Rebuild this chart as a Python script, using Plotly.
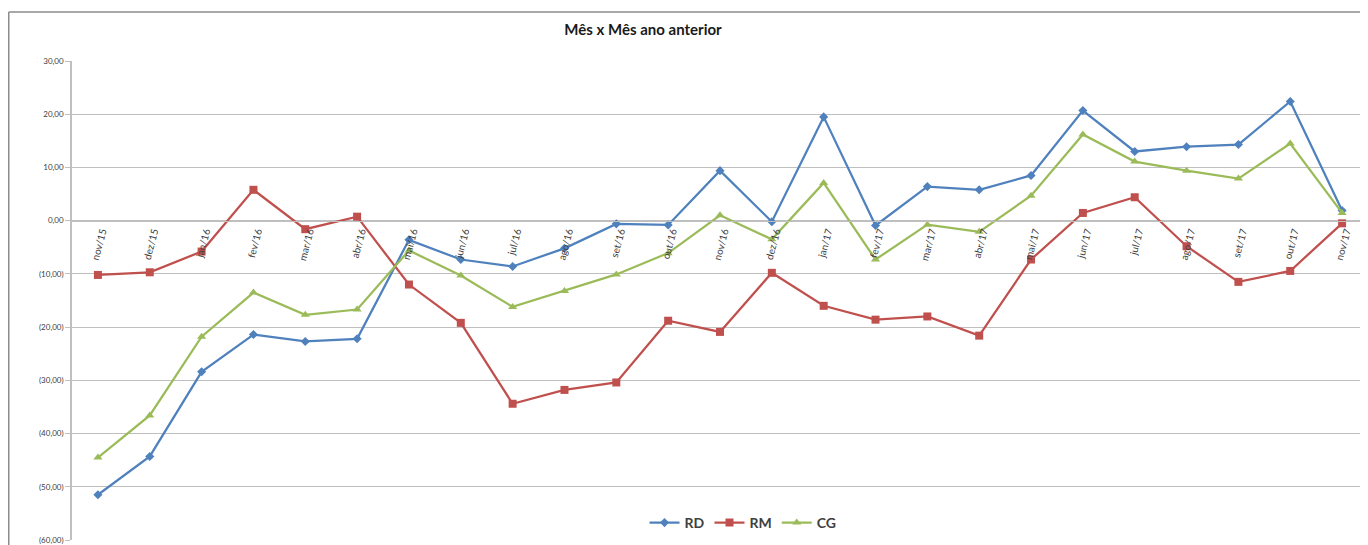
import plotly.graph_objects as go

categories = ["nov/15", "dez/15", "jan/16", "fev/16", "mar/16", "abr/16", "mai/16", "jun/16",
              "jul/16", "ago/16", "set/16", "out/16", "nov/16", "dez/16", "jan/17", "fev/17",
              "mar/17", "abr/17", "mai/17", "jun/17", "jul/17", "ago/17", "set/17", "out/17", "nov/17"]

rd = [-51.5, -44.3, -28.4, -21.4, -22.7, -22.2, -3.6, -7.3, -8.6, -5.2, -0.6, -0.8, 9.4, -0.2,
      19.5, -0.9, 6.4, 5.8, 8.5, 20.7, 13.0, 13.9, 14.3, 22.4, 1.9]
rm = [-10.2, -9.7, -5.8, 5.8, -1.6, 0.75, -12.0, -19.2, -34.4, -31.8, -30.4, -18.8, -20.9, -9.8,
      -16.0, -18.6, -18.0, -21.6, -7.3, 1.45, 4.4, -4.8, -11.5, -9.45, -0.5]
cg = [-44.5, -36.6, -21.8, -13.5, -17.7, -16.7, -5.6, -10.3, -16.2, -13.2, -10.1, -6.1, 1.0, -3.5,
      7.1, -7.3, -0.75, -2.1, 4.7, 16.2, 11.1, 9.4, 7.9, 14.5, 1.45]

y_tickvals = [30, 20, 10, 0, -10, -20, -30, -40, -50, -60]
y_ticktext = ["30,00", "20,00", "10,00", "0,00", "(10,00)", "(20,00)", "(30,00)",
              "(40,00)", "(50,00)", "(60,00)"]

FONT = "Lato"
OFF = 8  # page offset of the figure inside the browser body
W, H = 1368 - OFF, 545 - OFF
L, R, T, B = 72 - OFF, 0, 61 - OFF, 5
PW, PH = W - L - R, H - T - B


def px_x(page_x):
    return (page_x - OFF - L) / PW


def px_y(page_y):
    return (H - B - (page_y - OFF)) / PH


fig = go.Figure()
series = [("RD", rd, "#4F81BD", "diamond", 7),
          ("RM", rm, "#C0504D", "square", 8),
          ("CG", cg, "#9BBB59", "triangle-up", 8)]
for name, vals, col, sym, sz in series:
    fig.add_trace(go.Scatter(x=categories, y=vals, name=name, mode="lines+markers",
                             line=dict(color=col, width=2.25),
                             marker=dict(symbol=sym, size=sz, color=col)))

ymin, ymax = -60, 30
fig.update_layout(
    width=W, height=H,
    margin=dict(l=L, r=R, t=T, b=B),
    paper_bgcolor="white", plot_bgcolor="white",
    font=dict(family=FONT, color="#404040"),
    title=dict(text="<b>Mês x Mês ano anterior</b>", x=(643 - OFF) / W, xanchor="center",
               xref="container", y=1 - (30 - OFF) / H, yanchor="middle", yref="container",
               font=dict(family=FONT, size=15, color="#1a1a1a")),
    showlegend=True,
    legend=dict(orientation="h", x=px_x(743), xanchor="center",
                y=px_y(523), yanchor="middle",
                font=dict(family=FONT, size=14, color="#404040", weight="bold"),
                bgcolor="rgba(0,0,0,0)", itemwidth=30),
    xaxis=dict(type="category", range=[-0.5, len(categories) - 0.5],
               anchor="free", position=(0 - ymin) / (ymax - ymin),
               showgrid=False, showline=True, linecolor="#bfbfbf", linewidth=1,
               ticks="", tickangle=-75, ticklabelshift=4,
               tickfont=dict(family=FONT, size=10, color="#404040"),
               zeroline=False, fixedrange=True),
    yaxis=dict(range=[ymin, ymax], tickvals=y_tickvals, ticktext=y_ticktext,
               showgrid=True, gridcolor="#bfbfbf", gridwidth=1,
               showline=True, linecolor="#bfbfbf", linewidth=1.5,
               ticks="outside", ticklen=5, tickcolor="#bfbfbf",
               tickfont=dict(family=FONT, size=8, color="#404040"),
               zeroline=False, fixedrange=True),
)

# chart area border (Excel chart frame)
bx = px_x(OFF + 0.75)
by = px_y(12)
fig.add_shape(type="line", xref="paper", yref="paper",
              x0=bx, x1=bx, y0=by, y1=-0.2,
              line=dict(color="#8c8c8c", width=1.5))
fig.add_shape(type="line", xref="paper", yref="paper",
              x0=bx, x1=1.05, y0=by, y1=by,
              line=dict(color="#8c8c8c", width=1.5))

fig.write_html("out.html")
